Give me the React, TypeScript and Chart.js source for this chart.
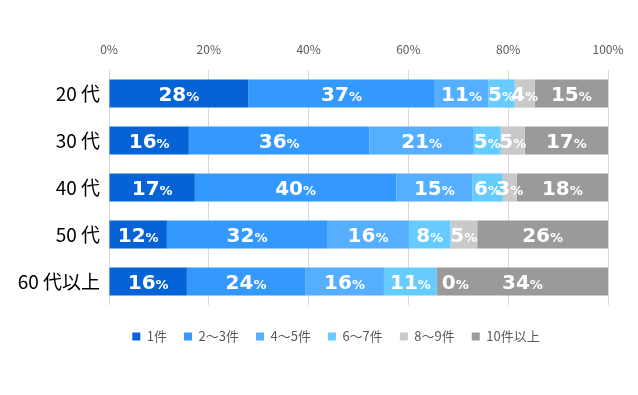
import React, { useEffect, useRef } from "react";
import { Chart, registerables } from "chart.js";

Chart.register(...registerables);

const categories = ["20 代", "30 代", "40 代", "50 代", "60 代以上"];
const seriesNames = ["1件", "2～3件", "4～5件", "6～7件", "8～9件", "10件以上"];
const seriesColors = ["#0563D6", "#3399FF", "#55AEFF", "#66CCFF", "#C9C9C9", "#9A9A9A"];
const oneItem = [27.9, 16.0, 17.2, 11.6, 15.6];
const twoToThree = [37.4, 36.2, 40.4, 32.1, 23.7];
const fourToFive = [10.7, 20.9, 15.2, 16.4, 15.8];
const sixToSeven = [5.3, 5.4, 6.1, 8.3, 10.6];
const eightToNine = [4.0, 4.8, 2.8, 5.4, 0];
const tenOrMore = [14.7, 16.7, 18.3, 26.2, 34.3];
const seriesValues = [oneItem, twoToThree, fourToFive, sixToSeven, eightToNine, tenOrMore];
const axisMin = 0;
const axisMax = 100;
const axisStep = 20;

const FONT = "'Noto Sans CJK JP', 'Noto Sans', sans-serif";
const NUM_FONT = "'DejaVu Sans', sans-serif";

const labelPlugin = {
  id: "segLabels",
  afterDatasetsDraw(chart: any) {
    const ctx = chart.ctx;
    ctx.save();
    chart.data.datasets.forEach((ds: any, di: number) => {
      const meta = chart.getDatasetMeta(di);
      meta.data.forEach((el: any, i: number) => {
        const v = ds.data[i];
        const num = String(Math.round(v));
        ctx.font = `bold 20px ${NUM_FONT}`;
        const nw = ctx.measureText(num).width;
        ctx.font = `bold 13px ${NUM_FONT}`;
        const pw = ctx.measureText("%").width;
        const total = nw + pw;
        const left = Math.min(el.x, el.base);
        const right = Math.max(el.x, el.base);
        let sx = (left + right) / 2 - total / 2;
        if (v === 0) sx = right + 5;
        const baseY = el.y + 7.5;
        ctx.fillStyle = "#FFFFFF";
        ctx.textAlign = "left";
        ctx.textBaseline = "alphabetic";
        ctx.font = `bold 20px ${NUM_FONT}`;
        ctx.fillText(num, sx, baseY);
        ctx.font = `bold 13px ${NUM_FONT}`;
        ctx.fillText("%", sx + nw, baseY);
      });
    });
    ctx.restore();
  },
};

const legendShiftPlugin = {
  id: "legendShift",
  afterLayout(chart: any) {
    if (chart.legend) {
      chart.legend.left = 34;
    }
  },
};

export default function App() {
  const ref = useRef<HTMLCanvasElement | null>(null);
  useEffect(() => {
    if (!ref.current) return;
    const chart = new Chart(ref.current, {
      type: "bar",
      data: {
        labels: categories,
        datasets: seriesNames.map((name, k) => ({
          label: name,
          data: seriesValues[k],
          backgroundColor: seriesColors[k],
          borderWidth: 0,
          barPercentage: 0.6,
          categoryPercentage: 1,
        })),
      },
      options: {
        indexAxis: "y",
        animation: false,
        responsive: true,
        maintainAspectRatio: false,
        layout: { padding: { left: 4, right: 0, top: 0, bottom: 42 } },
        scales: {
          x: {
            type: "linear",
            position: "top",
            stacked: true,
            min: axisMin,
            max: axisMax,
            ticks: {
              stepSize: axisStep,
              padding: 13,
              color: "#595959",
              font: { family: FONT, size: 12 },
              callback: (v: any) => v + "%",
            },
            grid: { color: "#D9D9D9", drawTicks: false, lineWidth: 1 },
            border: { display: false },
            afterFit: (s: any) => {
              s.height = 70;
            },
          },
          y: {
            type: "category",
            stacked: true,
            grid: { display: false, drawTicks: false },
            border: { display: false },
            ticks: {
              padding: 9,
              color: "#000000",
              font: { family: FONT, size: 19 },
            },
            afterFit: (s: any) => {
              s.width = 105;
            },
          },
          yRight: {
            type: "category",
            position: "right",
            display: true,
            grid: { display: false, drawTicks: false },
            border: { display: false },
            ticks: { display: false },
            afterFit: (s: any) => {
              s.width = 30;
            },
          },
        },
        plugins: {
          legend: {
            display: true,
            position: "bottom",
            title: { display: true, text: "", padding: 0, font: { size: 8, lineHeight: 1 } },
            labels: {
              boxWidth: 8,
              boxHeight: 8,
              padding: 17,
              color: "#595959",
              font: { family: FONT, size: 13 },
            },
          },
          tooltip: { enabled: false },
        },
      },
      plugins: [labelPlugin, legendShiftPlugin],
    });
    return () => chart.destroy();
  }, []);
  return (
    <div style={{ position: "fixed", left: 0, top: 0, width: 638, height: 395, background: "#fff" }}>
      <canvas ref={ref} />
    </div>
  );
}
